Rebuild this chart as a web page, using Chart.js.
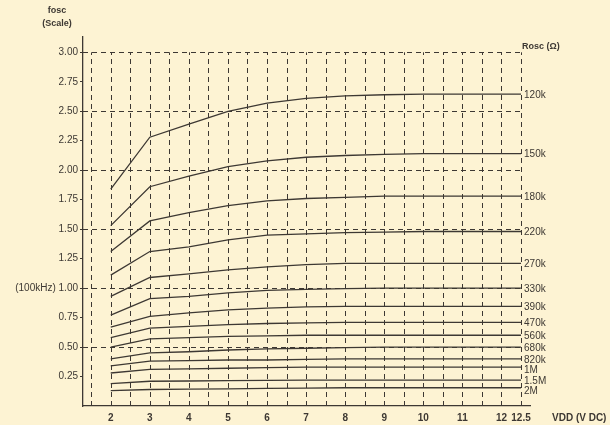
<!DOCTYPE html>
<html>
<head>
<meta charset="utf-8">
<script src="https://cdn.jsdelivr.net/npm/chart.js@4"></script>
<style>
html, body { margin: 0; padding: 0; background: #fdf3d3; }
#wrap { position: relative; width: 610px; height: 425px; }
</style>
</head>
<body>
<div id="wrap"><canvas id="c"></canvas></div>
<script>
// supply voltage points (V DC)
const vdd = [2, 3, 4, 5, 6, 7, 8, 9, 10, 11, 12, 12.5];

// fosc (scale, 1.00 = 100kHz) for each Rosc
const roscNames = ['120k', '150k', '180k', '220k', '270k', '330k', '390k', '470k', '560k', '680k', '820k', '1M', '1.5M', '2M'];
const r120k = [1.84, 2.28, 2.39, 2.50, 2.57, 2.61, 2.63, 2.64, 2.645, 2.645, 2.645, 2.645];
const r150k = [1.53, 1.86, 1.95, 2.03, 2.08, 2.11, 2.125, 2.135, 2.14, 2.14, 2.14, 2.14];
const r180k = [1.31, 1.57, 1.64, 1.70, 1.74, 1.76, 1.77, 1.78, 1.78, 1.78, 1.78, 1.78];
const r220k = [1.11, 1.31, 1.35, 1.41, 1.45, 1.46, 1.47, 1.475, 1.48, 1.48, 1.48, 1.48];
const r270k = [0.93, 1.09, 1.12, 1.155, 1.18, 1.20, 1.21, 1.21, 1.21, 1.21, 1.21, 1.21];
const r330k = [0.77, 0.91, 0.93, 0.96, 0.98, 0.99, 0.995, 1.0, 1.0, 1.0, 1.0, 1.0];
const r390k = [0.67, 0.76, 0.79, 0.815, 0.83, 0.84, 0.845, 0.845, 0.845, 0.845, 0.845, 0.845];
const r470k = [0.58, 0.66, 0.675, 0.69, 0.70, 0.705, 0.71, 0.71, 0.71, 0.71, 0.71, 0.71];
const r560k = [0.50, 0.57, 0.58, 0.59, 0.595, 0.60, 0.60, 0.60, 0.60, 0.60, 0.60, 0.60];
const r680k = [0.40, 0.45, 0.46, 0.475, 0.485, 0.49, 0.495, 0.50, 0.50, 0.50, 0.50, 0.50];
const r820k = [0.34, 0.38, 0.385, 0.39, 0.39, 0.395, 0.40, 0.40, 0.40, 0.40, 0.40, 0.40];
const r1M = [0.28, 0.31, 0.315, 0.32, 0.325, 0.33, 0.33, 0.33, 0.33, 0.33, 0.33, 0.33];
const r1M5 = [0.19, 0.21, 0.212, 0.215, 0.218, 0.22, 0.22, 0.22, 0.22, 0.22, 0.22, 0.22];
const r2M = [0.13, 0.14, 0.143, 0.146, 0.15, 0.152, 0.155, 0.155, 0.155, 0.155, 0.155, 0.155];
const series = [r120k, r150k, r180k, r220k, r270k, r330k, r390k, r470k, r560k, r680k, r820k, r1M, r1M5, r2M];

// ticks and grid
const xTicks = [2, 3, 4, 5, 6, 7, 8, 9, 10, 11, 12, 12.5];
const yTicks = [0.25, 0.5, 0.75, 1.0, 1.25, 1.5, 1.75, 2.0, 2.25, 2.5, 2.75, 3.0];
const xGrid = [1.5, 2, 2.5, 3, 3.5, 4, 4.5, 5, 5.5, 6, 6.5, 7, 7.5, 8, 8.5, 9, 9.5, 10, 10.5, 11, 11.5, 12, 12.5];
const yGrid = [0.5, 1.0, 1.5, 2.0, 2.5, 3.0];

const ink = '#3d3833';
const font = "'Liberation Sans', Arial, sans-serif";

// dashed grid and free texts
Chart.register({
    id: 'datasheetDeco',
    beforeDatasetsDraw(chart) {
        const ctx = chart.ctx;
        const xs = chart.scales.x, ys = chart.scales.y;
        const left = chart.chartArea.left;
        const xEnd = xs.getPixelForValue(12.5);
        const yTop = ys.getPixelForValue(3.0);
        const yBot = ys.getPixelForValue(0);
        ctx.save();
        ctx.strokeStyle = ink;
        ctx.lineWidth = 1;
        ctx.setLineDash([5, 4]);
        xGrid.forEach(v => {
            const x = Math.round(xs.getPixelForValue(v)) + 0.5;
            ctx.beginPath();
            ctx.moveTo(x, yBot);
            ctx.lineTo(x, yTop);
            ctx.stroke();
        });
        yGrid.forEach(v => {
            const y = Math.round(ys.getPixelForValue(v)) + 0.5;
            ctx.beginPath();
            ctx.moveTo(left, y);
            ctx.lineTo(xEnd, y);
            ctx.stroke();
        });
        ctx.restore();
    },
    afterDraw(chart) {
        const ctx = chart.ctx;
        const xs = chart.scales.x, ys = chart.scales.y;
        ctx.save();
        ctx.fillStyle = ink;
        ctx.textBaseline = 'middle';
        ctx.font = 'bold 9px ' + font;
        ctx.textAlign = 'center';
        ctx.fillText('fosc', 57, 11);
        ctx.fillText('(Scale)', 57, 24);
        ctx.textAlign = 'left';
        ctx.fillText('Rosc (\u03A9)', 522, 47);
        ctx.font = 'bold 10px ' + font;
        ctx.fillText('VDD (V DC)', 552, 418);

        // curve names at right end, pushed apart so they do not overlap
        ctx.font = '10px ' + font;
        const xLab = xs.getPixelForValue(12.5) + 3;
        let prev = -Infinity;
        series.forEach((s, i) => {
            let y = ys.getPixelForValue(s[s.length - 1]);
            if (y < prev + 10) y = prev + 10;
            prev = y;
            ctx.fillText(roscNames[i], xLab, y + 1);
        });
        ctx.restore();
    }
});

new Chart(document.getElementById('c'), {
    type: 'line',
    data: {
        datasets: series.map((s, i) => ({
            label: roscNames[i],
            data: vdd.map((v, j) => ({ x: v, y: s[j] })),
            borderColor: ink,
            borderWidth: 1.3,
            pointRadius: 0,
            fill: false,
            tension: 0
        }))
    },
    options: {
        responsive: true,
        maintainAspectRatio: false,
        animation: false,
        layout: { padding: { top: 37, right: 80, left: 0, bottom: 0 } },
        plugins: { legend: { display: false }, tooltip: { enabled: false } },
        scales: {
            x: {
                type: 'linear',
                min: 1.29,
                max: 12.73,
                afterBuildTicks: s => { s.ticks = xTicks.map(v => ({ value: v })); },
                afterFit: s => { s.height = 19; },
                grid: { display: false, drawTicks: false, tickLength: 0 },
                border: { display: true, color: ink, width: 1.3 },
                ticks: {
                    autoSkip: false,
                    maxRotation: 0,
                    padding: 6,
                    color: ink,
                    font: { family: font, size: 10, weight: 'bold' },
                    callback: v => String(v)
                }
            },
            y: {
                min: 0,
                max: 3.13,
                afterBuildTicks: s => { s.ticks = yTicks.map(v => ({ value: v })); },
                afterFit: s => { s.width = 83; },
                grid: { drawOnChartArea: false, drawTicks: true, tickLength: 3, color: ink },
                border: { display: true, color: ink, width: 1.3 },
                ticks: {
                    padding: 2,
                    color: ink,
                    font: { family: font, size: 10 },
                    callback: v => v === 1 ? '(100kHz) 1.00' : v.toFixed(2)
                }
            }
        }
    }
});
</script>
</body>
</html>
